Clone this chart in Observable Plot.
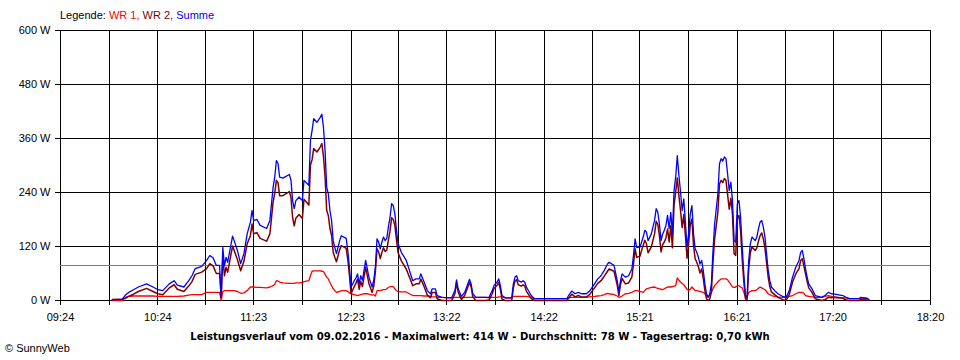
<!DOCTYPE html>
<html>
<head>
<meta charset="utf-8">
<script src="https://cdn.jsdelivr.net/npm/d3@7"></script>
<script src="https://cdn.jsdelivr.net/npm/@observablehq/plot@0.6"></script>
<style>
  html, body { margin: 0; padding: 0; background: #fff; }
  #wrap { position: relative; width: 960px; height: 360px; font-family: "Liberation Sans", Arial, sans-serif; font-size: 11px; color: #000; }
  #legend { position: absolute; left: 60px; top: 9px; white-space: nowrap; }
  #caption { position: absolute; left: 0; width: 960px; top: 331px; text-align: center; font-weight: bold; white-space: nowrap; font-family: "DejaVu Sans", Verdana, sans-serif; font-size: 10.1px; }
  #copy { position: absolute; left: 5px; top: 342px; white-space: nowrap; }
</style>
</head>
<body>
<div id="wrap">
  <div id="chart"></div>
  <div id="legend">Legende: <span style="color:#ff0000">WR 1,</span> <span style="color:#800000">WR 2,</span> <span style="color:#0000ff">Summe</span></div>
  <div id="caption">Leistungsverlauf vom 09.02.2016 - Maximalwert: 414 W - Durchschnitt: 78 W - Tagesertrag: 0,70 kWh</div>
  <div id="copy">© SunnyWeb</div>
</div>
<script>
const times = [
"09:56","10:02","10:04","10:06","10:09","10:12","10:17","10:21","10:24","10:27",
"10:31","10:34","10:36","10:40","10:43","10:45","10:47","10:51","10:54","10:56",
"10:58","11:00","11:02","11:03","11:04","11:05","11:06","11:07","11:10","11:11",
"11:13","11:15","11:17","11:19","11:21","11:22","11:23","11:25","11:27","11:31",
"11:33","11:35","11:36","11:37","11:38","11:39","11:41","11:45","11:46","11:47",
"11:48","11:49","11:51","11:53","11:54","11:57","11:58","11:59","12:00","12:02",
"12:04","12:05","12:06","12:07","12:08","12:09","12:10","12:11","12:12","12:13",
"12:14","12:16","12:17","12:20","12:21","12:22","12:23","12:25","12:26","12:27",
"12:28","12:29","12:30","12:31","12:32","12:33","12:34","12:36","12:37","12:38",
"12:39","12:40","12:41","12:42","12:43","12:44","12:45","12:46","12:47","12:48",
"12:49","12:50","12:51","12:52","12:54","12:57","12:59","13:01","13:03","13:05",
"13:06","13:08","13:10","13:12","13:13","13:15","13:16","13:19","13:25","13:27",
"13:28","13:29","13:31","13:33","13:36","13:37","13:38","13:40","13:46","13:48",
"13:49","13:50","13:51","13:53","13:54","13:55","13:56","13:58","14:02","14:03",
"14:04","14:05","14:06","14:08","14:09","14:10","14:11","14:14","14:16","14:36",
"14:37","14:39","14:41","14:43","14:45","14:48","14:50","14:53","14:55","14:57",
"14:59","15:01","15:02","15:05","15:07","15:08","15:09","15:10","15:12","15:14",
"15:16","15:17","15:18","15:19","15:21","15:22","15:23","15:24","15:25","15:26",
"15:28","15:30","15:31","15:32","15:33","15:34","15:35","15:36","15:37","15:38",
"15:39","15:40","15:41","15:42","15:43","15:44","15:45","15:46","15:47","15:48",
"15:49","15:50","15:51","15:52","15:53","15:54","15:55","15:56","15:57","15:58",
"15:59","16:00","16:01","16:02","16:03","16:04","16:05","16:06","16:07","16:09",
"16:10","16:11","16:12","16:13","16:14","16:15","16:16","16:17","16:18","16:19",
"16:20","16:21","16:22","16:23","16:24","16:25","16:26","16:27","16:28","16:29",
"16:30","16:32","16:33","16:34","16:35","16:36","16:37","16:38","16:39","16:40",
"16:41","16:42","16:44","16:46","16:49","16:51","16:53","16:55","16:57","16:59",
"17:00","17:01","17:02","17:03","17:04","17:05","17:07","17:09","17:13","17:15",
"17:17","17:19","17:21","17:26","17:28","17:30","17:36","17:37","17:41","17:42"
];
const summe = [
2,3,12,18,24,30,37,30,24,22,
37,44,34,30,44,55,71,76,89,100,
95,78,78,7,118,77,96,85,143,133,
111,82,104,148,174,200,178,180,167,160,
178,252,274,311,305,274,272,280,267,222,
204,222,230,222,267,256,356,378,404,396,
407,414,385,333,252,237,200,178,133,118,
104,133,144,138,111,74,30,44,50,59,
37,55,45,67,89,71,52,30,45,74,
137,130,115,130,141,133,138,163,185,215,
211,193,156,126,107,89,67,44,48,48,
59,41,22,15,26,26,11,7,6,22,
46,26,9,18,47,37,15,7,7,7,
15,22,33,41,48,33,11,6,6,37,
52,55,44,41,44,41,30,11,4,4,
11,21,15,18,15,15,21,37,48,55,
67,81,85,78,44,18,44,59,52,55,
70,100,137,118,118,130,141,156,152,133,
148,178,204,196,170,133,148,156,167,189,
160,196,148,244,274,322,278,241,200,226,
174,119,148,193,211,148,115,107,96,81,
89,67,37,15,7,15,37,111,170,237,
304,315,310,319,315,281,244,263,222,133,
130,215,222,185,119,59,11,7,89,126,
141,133,141,159,174,178,163,141,104,67,
44,30,22,15,9,7,22,52,74,89,
107,111,93,70,52,37,26,11,7,11,
18,15,14,11,7,4,4,7,5,2
];
const wr1 = [
0,0,7,9,10,10,10,10,9,9,
9,9,9,10,12,13,13,13,18,18,
18,18,18,0,20,22,22,22,22,22,
20,16,17,22,30,30,30,29,29,28,
30,33,36,44,43,41,39,38,38,38,
38,39,39,40,42,44,55,65,66,66,
66,65,64,58,52,48,40,33,26,22,
18,20,22,22,20,17,15,13,12,11,
12,13,14,15,15,15,14,12,13,10,
22,22,22,23,24,24,26,29,31,31,
31,26,22,20,19,19,15,11,11,11,
11,10,10,9,8,8,7,7,6,7,
7,7,7,7,7,7,7,7,7,6,
7,7,7,7,8,8,8,6,6,9,
9,9,9,9,9,9,9,7,4,4,
6,7,7,7,7,7,8,9,10,11,
13,16,15,13,10,7,8,10,15,16,
18,20,22,22,20,19,18,22,26,27,
29,30,28,27,26,25,24,26,28,30,
30,30,31,32,33,50,45,41,38,35,
30,25,22,25,30,26,22,22,21,20,
19,18,15,11,7,12,18,26,33,41,
45,48,48,48,48,46,41,36,30,29,
30,33,33,30,28,18,7,7,18,20,
22,22,24,27,30,28,26,24,20,15,
13,11,9,8,7,7,9,11,15,18,
18,18,16,11,10,9,8,7,7,9,
11,9,6,6,6,4,4,5,4,2
];
const wr2 = [
2,3,5,9,14,20,27,20,15,13,
28,35,25,20,32,42,58,63,71,82,
77,60,60,7,98,55,74,63,121,111,
91,66,87,126,144,170,148,151,138,132,
148,219,238,267,262,233,233,242,229,184,
166,183,191,182,225,212,301,313,338,330,
341,349,321,275,200,189,160,145,107,96,
86,113,122,116,91,57,15,31,38,48,
25,42,31,52,74,56,38,18,32,64,
115,108,93,107,117,109,112,134,154,184,
180,167,134,106,88,70,52,33,37,37,
48,31,12,6,18,18,4,0,0,15,
39,19,2,11,40,30,8,0,0,1,
8,15,26,34,40,25,3,0,0,28,
43,46,35,32,35,32,21,4,0,0,
5,14,8,11,8,8,13,28,38,44,
54,65,70,65,34,11,36,49,37,39,
52,80,115,96,98,111,123,134,126,106,
119,148,176,169,144,108,124,130,139,159,
130,166,117,212,241,272,233,200,162,191,
144,94,126,168,181,122,93,85,75,61,
70,49,22,4,0,3,19,85,137,196,
259,267,262,271,267,235,203,227,192,104,
100,182,189,155,91,41,4,0,71,106,
119,111,117,132,144,150,137,117,84,52,
31,19,13,7,2,0,13,41,59,71,
89,93,77,59,42,28,18,4,0,2,
7,6,8,5,1,0,0,2,1,0
];
const yTicks = [0, 120, 240, 360, 480, 600];
const xLabels = ["09:24","10:24","11:23","12:23","13:22","14:22","15:21","16:21","17:20","18:20"];
const average = 78;

const toMin = s => { const [h, m] = s.split(":").map(Number); return h * 60 + m; };
const rows = times.map((t, i) => ({ t: toMin(t), wr1: wr1[i], wr2: wr2[i], summe: summe[i] }));
const majors = xLabels.map(toMin);
const minors = majors.slice(1).map((v, i) => (v + majors[i]) / 2);
const xDomain = [majors[0], majors[majors.length - 1]];
const xGrid = majors.concat(minors);

const chart = Plot.plot({
  width: 960,
  height: 360,
  marginTop: 30,
  marginBottom: 60,
  marginLeft: 60,
  marginRight: 30,
  style: { background: "#fff", fontFamily: "Liberation Sans, Arial, sans-serif", fontSize: "11px" },
  x: { domain: xDomain, axis: null },
  y: { domain: [0, 600], axis: null },
  marks: [
    Plot.ruleY(yTicks, { y: d => d, x1: xDomain[0] - 3.1, x2: xDomain[1], stroke: "#000", strokeWidth: 1, shapeRendering: "crispEdges" }),
    Plot.ruleX(xGrid, { x: d => d, y1: -11, y2: 600, stroke: "#000", strokeWidth: 1, shapeRendering: "crispEdges" }),
    Plot.ruleY([average], { y: d => d, x1: xDomain[0], x2: xDomain[1], stroke: "#808080", strokeWidth: 1, shapeRendering: "crispEdges" }),
    Plot.text(yTicks, { x: xDomain[0], y: d => d, text: d => d + " W", textAnchor: "end", dx: -10, fill: "#000", fontSize: 11 }),
    Plot.text(xLabels, { x: toMin, y: 0, text: d => d, dy: 17, fill: "#000", fontSize: 11 }),
    Plot.line(rows, { x: "t", y: "wr1", stroke: "#ff0000", strokeWidth: 1.3 }),
    Plot.line(rows, { x: "t", y: "wr2", stroke: "#800000", strokeWidth: 1.5 }),
    Plot.line(rows, { x: "t", y: "summe", stroke: "#0000ff", strokeWidth: 1.3 })
  ]
});
document.getElementById("chart").appendChild(chart);
</script>
</body>
</html>
